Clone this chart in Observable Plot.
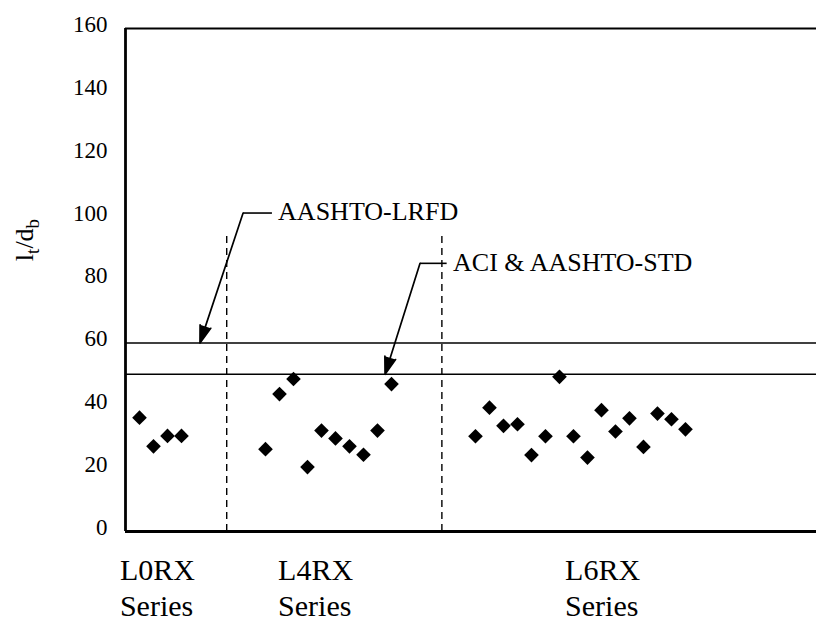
<!DOCTYPE html>
<html>
<head>
<meta charset="utf-8">
<script src="https://cdn.jsdelivr.net/npm/d3@7"></script>
<script src="https://cdn.jsdelivr.net/npm/@observablehq/plot@0.6"></script>
<style>
  html, body { margin: 0; padding: 0; background: #fff; }
  #chart { width: 816px; height: 624px; overflow: hidden; }
  #chart svg, #chart svg text, #chart svg tspan { font-family: "Liberation Serif", "Times New Roman", serif !important; }
</style>
</head>
<body>
<div id="chart"></div>
<script>
// ---- Data ----
const seriesNames = ["L0RX", "L4RX", "L6RX"];
const seriesStart = [1, 10, 25];            // specimen index of first specimen in each series
const l0rxValues = [36.2, 27.1, 30.4, 30.4];
const l4rxValues = [26.2, 43.7, 48.5, 20.5, 32.1, 29.6, 27.1, 24.4, 32.1, 46.9];
const l6rxValues = [30.3, 39.4, 33.6, 34.1, 24.3, 30.3, 49.2, 30.3, 23.5, 38.6, 31.8, 36.0, 26.9, 37.5, 35.7, 32.5];
const seriesLabelX = [-0.4, 10.9, 31.4];    // specimen index where series label starts
const dividerX = [7.23, 22.6];              // dashed series separators
const dividerTop = 94;
const yTicks = [0, 20, 40, 60, 80, 100, 120, 140, 160];
const codeNames = ["AASHTO-LRFD", "ACI & AASHTO-STD"];
const codeLimits = [60, 50];
const leaderY = [101.3, 85.3];
const leaderStartX = [8.4, 21.04];
const leaderEndX = [10.46, 22.94];
const arrowTipX = [5.32, 18.54];
const labelStartX = [10.9, 23.4];
const xMax = 49.36;

// ---- Build tables ----
const allValues = [l0rxValues, l4rxValues, l6rxValues];
const points = allValues.flatMap((vals, s) =>
  vals.map((v, i) => ({series: seriesNames[s], x: seriesStart[s] + i, y: v})));
const seriesLabels = seriesNames.map((n, i) => ({x: seriesLabelX[i], text: n + "\nSeries"}));
const codes = codeNames.map((n, i) => ({
  name: n, limit: codeLimits[i], ly: leaderY[i], lx1: leaderStartX[i], lx2: leaderEndX[i],
  tipX: arrowTipX[i], tx: labelStartX[i]
}));

const serif = "Liberation Serif";

const plot = Plot.plot({
  width: 816,
  height: 624,
  marginLeft: 125,
  marginRight: 0,
  marginTop: 28,
  marginBottom: 93,
  style: {fontFamily: serif, fontSize: "23px", background: "white", color: "black", overflow: "visible"},
  x: {domain: [0, xMax], axis: null},
  y: {domain: [0, 160], axis: null},
  marks: [
    Plot.axisY({ticks: yTicks, tickSize: 0, tickPadding: 18, dy: -4, fontSize: 23, label: null}),
    // frame
    Plot.ruleY([0], {stroke: "black", strokeWidth: 2.8}),
    Plot.ruleY([160], {stroke: "black", strokeWidth: 2.2}),
    Plot.ruleX([0], {stroke: "black", strokeWidth: 2.8}),
    // code limits
    Plot.ruleY(codes, {y: "limit", stroke: "black", strokeWidth: 1.5}),
    // dividers
    Plot.ruleX(dividerX, {x: d => d, y1: 0, y2: dividerTop, stroke: "black", strokeWidth: 1.4, strokeDasharray: "7,5"}),
    // leader lines and arrows
    Plot.link(codes, {x1: "lx1", x2: "lx2", y1: "ly", y2: "ly", stroke: "black", strokeWidth: 1.6}),
    Plot.arrow(codes, {x1: "lx1", y1: "ly", x2: "tipX", y2: "limit", stroke: "black", fill: "black",
      strokeWidth: 1.7, headLength: 16, headAngle: 36}),
    Plot.text(codes, {x: "tx", y: "ly", text: "name", textAnchor: "start", fontSize: 26, dy: -1}),
    // data points
    Plot.dot(points, {x: "x", y: "y", symbol: "diamond2", r: 6.6, fill: "black", stroke: "none"}),
    // series labels
    Plot.text(seriesLabels, {x: "x", y: () => 0, text: "text", textAnchor: "start", lineAnchor: "top",
      dy: 24, fontSize: 30, lineHeight: 1.17}),
    // y label
    Plot.text(["lt/db"], {frameAnchor: "left", y: () => 86, text: d => d, rotate: -90, dx: -101,
      fontSize: 26, ariaLabel: "ylabel"})
  ]
});

// Format the y label with subscripts
d3.select(plot).selectAll("text").filter(function() { return this.textContent === "lt/db"; })
  .each(function() {
    const t = d3.select(this);
    t.text(null);
    t.append("tspan").text("l");
    t.append("tspan").attr("font-size", "19px").attr("dy", "6").text("t");
    t.append("tspan").attr("dy", "-6").text("/d");
    t.append("tspan").attr("font-size", "19px").attr("dy", "6").text("b");
  });

document.getElementById("chart").appendChild(plot);
</script>
</body>
</html>
